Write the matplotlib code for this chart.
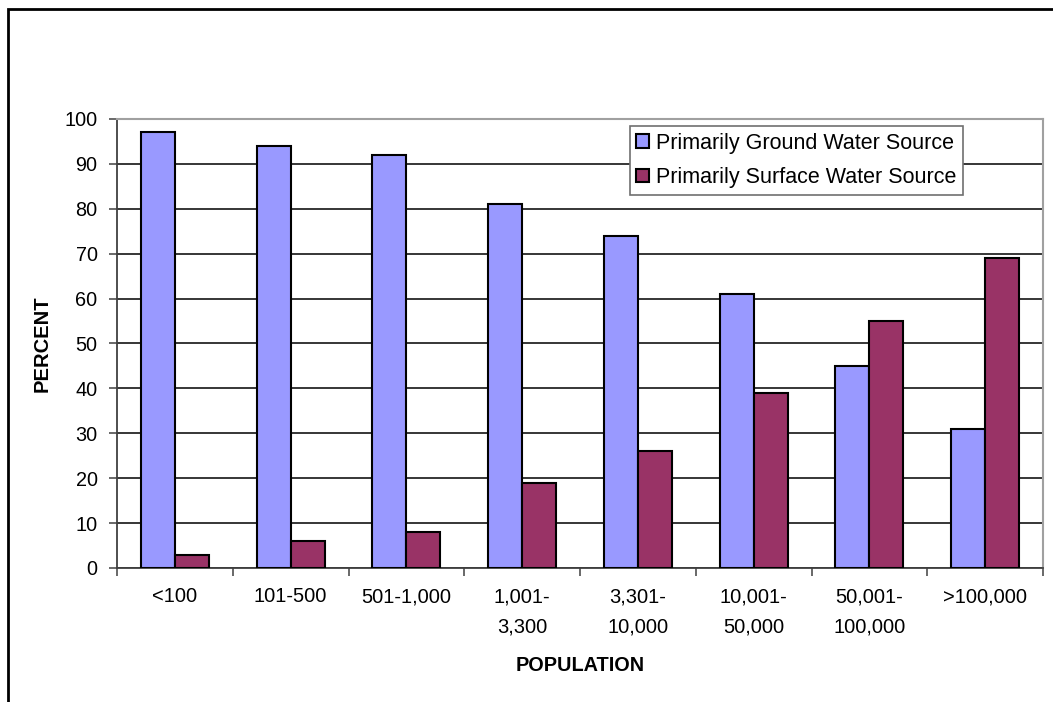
import numpy as np
import matplotlib
matplotlib.use("Agg")
import matplotlib.pyplot as plt
from matplotlib.patches import Rectangle

plt.rcParams['font.family'] = ['Liberation Sans', 'DejaVu Sans']

# Community water systems by population served
categorias = ['<100', '101-500', '501-1,000', '1,001-\n3,300', '3,301-\n10,000',
              '10,001-\n50,000', '50,001-\n100,000', '>100,000']
agua_subterranea = [97, 94, 92, 81, 74, 61, 45, 31]
agua_superficial = [3, 6, 8, 19, 26, 39, 55, 69]

fig = plt.figure(figsize=(10.53, 7.02), dpi=100)
ax = fig.add_axes([0.1111, 0.1909, 0.8795, 0.6396])

x = np.arange(len(categorias))
largura = 0.294
ax.bar(x - largura / 2, agua_subterranea, largura, color='#9999FF', edgecolor='black',
       linewidth=1.5, label='Primarily Ground Water Source', zorder=3)
ax.bar(x + largura / 2, agua_superficial, largura, color='#993366', edgecolor='black',
       linewidth=1.5, label='Primarily Surface Water Source', zorder=3)

ax.set_xlim(-0.5, len(categorias) - 0.5)
ax.set_ylim(0, 100)
ax.set_yticks(range(0, 101, 10))
ax.yaxis.grid(True, color='black', linewidth=1.1, zorder=0)

ax.set_xticks(x)
ax.set_xticklabels(categorias, fontsize=14.5, linespacing=1.75, va='top')
ax.set_xticks(np.arange(len(categorias) + 1) - 0.5, minor=True)
ax.tick_params(axis='x', which='major', length=0, pad=14)
ax.tick_params(axis='x', which='minor', length=6, width=1.1, color='#404040')
ax.tick_params(axis='y', length=6, width=1.1, pad=8, labelsize=14.3, color='#404040')

for lado in ['left', 'bottom']:
    ax.spines[lado].set_color('#404040')
    ax.spines[lado].set_linewidth(1.3)
for lado in ['top', 'right']:
    ax.spines[lado].set_color('#A0A0A0')
    ax.spines[lado].set_linewidth(1.5)

ax.set_ylabel('PERCENT', fontsize=14.5, fontweight='bold', labelpad=9)
ax.set_xlabel('POPULATION', fontsize=14.3, fontweight='bold', labelpad=14)

leg = ax.legend(loc='upper right', bbox_to_anchor=(0.9136, 0.9844), fontsize=15.5,
                frameon=True, fancybox=False, edgecolor='#707070', framealpha=1,
                handlelength=0.6, handleheight=0.6, handletextpad=0.3,
                borderpad=0.32, labelspacing=0.62, borderaxespad=0)
leg.get_frame().set_linewidth(1.2)
for h in leg.legend_handles:
    h.set_linewidth(1.5)

# moldura externa do gráfico
fig.patches.append(Rectangle((8 / 1053, -0.05), 1.1, 1 - 9 / 702 + 0.05,
                             transform=fig.transFigure, fill=False,
                             edgecolor='black', linewidth=2, zorder=10))

fig.savefig('out.png', dpi=100)
